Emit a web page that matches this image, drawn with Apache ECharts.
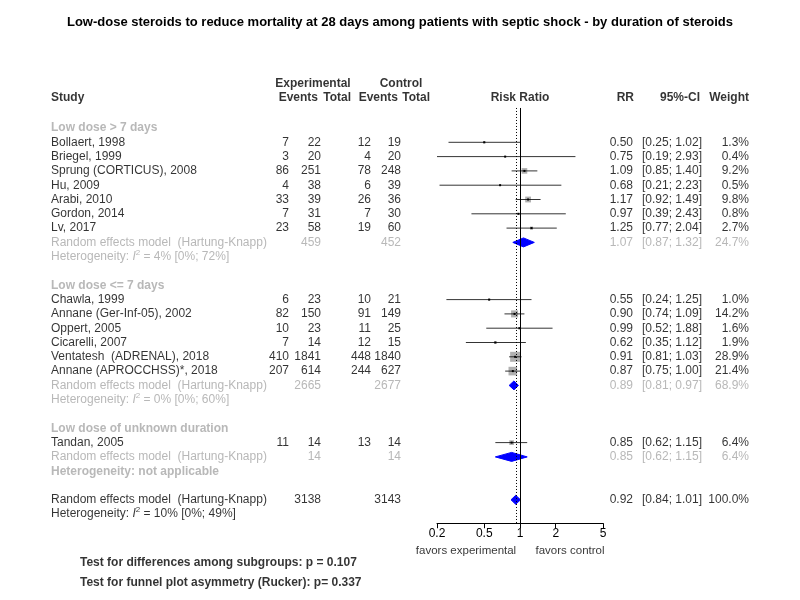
<!DOCTYPE html>
<html><head><meta charset="utf-8">
<script src="https://cdn.jsdelivr.net/npm/echarts@6/dist/echarts.min.js"></script>
<style>html,body{margin:0;background:#fff}#c{width:800px;height:600px}</style>
</head><body><div id="c"></div>
<script>
const studyNames=["Bollaert, 1998","Briegel, 1999","Sprung (CORTICUS), 2008","Hu, 2009","Arabi, 2010","Gordon, 2014","Lv, 2017",
"Chawla, 1999","Annane (Ger-Inf-05), 2002","Oppert, 2005","Cicarelli, 2007","Ventatesh  (ADRENAL), 2018","Annane (APROCCHSS)*, 2018",
"Tandan, 2005"];
const studyRows=[1,2,3,4,5,6,7,12,13,14,15,16,17,22];
const evE=[7,3,86,4,33,7,23,6,82,10,7,410,207,11];
const totE=[22,20,251,38,39,31,58,23,150,23,14,1841,614,14];
const evC=[12,4,78,6,26,7,19,10,91,11,12,448,244,13];
const totC=[19,20,248,39,36,30,60,21,149,25,15,1840,627,14];
const rr=[0.50,0.75,1.09,0.68,1.17,0.97,1.25,0.55,0.90,0.99,0.62,0.91,0.87,0.85];
const lo=[0.25,0.19,0.85,0.21,0.92,0.39,0.77,0.24,0.74,0.52,0.35,0.81,0.75,0.62];
const hi=[1.02,2.93,1.40,2.23,1.49,2.43,2.04,1.25,1.09,1.88,1.12,1.03,1.00,1.15];
const wt=[1.3,0.4,9.2,0.5,9.8,0.8,2.7,1.0,14.2,1.6,1.9,28.9,21.4,6.4];
const groupNames=["Low dose > 7 days","Low dose <= 7 days","Low dose of unknown duration"];
const groupRows=[0,11,21];
const reRows=[8,18,23,26];
const reTotE=[459,2665,14,3138];
const reTotC=[452,2677,14,3143];
const reRR=[1.07,0.89,0.85,0.92];
const reLo=[0.87,0.81,0.62,0.84];
const reHi=[1.32,0.97,1.15,1.01];
const reW=[24.7,68.9,6.4,100.0];
const hetRows=[9,19,24,27];
const hetI2=["4%","0%",null,"10%"];
const hetCI=["[0%; 72%]","[0%; 60%]",null,"[0%; 49%]"];
const tickLabels=[0.2,0.5,1,2,5];

const F="Liberation Sans, Arial, sans-serif";
const GRAY="#a6a6a6";
const txt=[];
function T(x,row,s,o){o=o||{};txt.push({value:[x,row],label:{show:true,formatter:s,position:'inside',align:o.align||'left',verticalAlign:'middle',fontSize:o.size||12,fontWeight:o.bold?'bold':'normal',color:o.color||'#000',fontFamily:F,rich:o.rich}});}
const f2=v=>v.toFixed(2);
const ci=(a,b)=>"["+f2(a)+"; "+f2(b)+"]";
// headers
T(313,-3.1,"Experimental",{align:'center',bold:true});
T(401,-3.1,"Control",{align:'center',bold:true});
T(51,-2.1,"Study",{bold:true});
T(318,-2.1,"Events",{align:'right',bold:true});T(351,-2.1,"Total",{align:'right',bold:true});
T(398,-2.1,"Events",{align:'right',bold:true});T(430,-2.1,"Total",{align:'right',bold:true});
T(520,-2.1,"Risk Ratio",{align:'center',bold:true});
T(634,-2.1,"RR",{align:'right',bold:true});T(700,-2.1,"95%-CI",{align:'right',bold:true});T(749,-2.1,"Weight",{align:'right',bold:true});
groupNames.forEach((g,i)=>T(51,groupRows[i],g,{bold:true,color:GRAY}));
studyNames.forEach((n,i)=>{const r=studyRows[i];T(51,r,n);T(289,r,String(evE[i]),{align:'right'});T(321,r,String(totE[i]),{align:'right'});
T(371,r,String(evC[i]),{align:'right'});T(401,r,String(totC[i]),{align:'right'});
T(633,r,f2(rr[i]),{align:'right'});T(702,r,ci(lo[i],hi[i]),{align:'right'});T(749,r,wt[i].toFixed(1)+"%",{align:'right'});});
reRows.forEach((r,i)=>{const c=i<3?GRAY:'#000';T(51,r,"Random effects model  (Hartung-Knapp)",{color:c});
T(321,r,String(reTotE[i]),{align:'right',color:c});T(401,r,String(reTotC[i]),{align:'right',color:c});
T(633,r,f2(reRR[i]),{align:'right',color:c});T(702,r,ci(reLo[i],reHi[i]),{align:'right',color:c});T(749,r,reW[i].toFixed(1)+"%",{align:'right',color:c});});
hetRows.forEach((r,i)=>{const c=i<3?GRAY:'#000';
if(hetI2[i]===null){T(51,r,"Heterogeneity: not applicable",{bold:true,color:GRAY});return;}
T(51,r,"Heterogeneity: {i|I}{s|2} = "+hetI2[i]+" "+hetCI[i],{color:c,rich:{i:{fontStyle:'italic',fontSize:12,color:c,fontFamily:F},s:{fontSize:8,verticalAlign:'top',padding:[0,0,8,0],color:c,fontFamily:F}}});});
T(466,29.55,"favors experimental",{align:'center',size:11.5});
T(570,29.55,"favors control",{align:'center',size:11.5});
T(80,30.4,"Test for differences among subgroups: p = 0.107",{bold:true});
T(80,31.8,"Test for funnel plot asymmetry (Rucker): p= 0.337",{bold:true});

const plotData=[];
studyNames.forEach((n,i)=>plotData.push([studyRows[i],Math.log(rr[i]),Math.log(lo[i]),Math.log(hi[i]),wt[i],0]));
reRows.forEach((r,i)=>plotData.push([r,Math.log(reRR[i]),Math.log(reLo[i]),Math.log(reHi[i]),reW[i],1]));
const XMIN=Math.log(0.2),XMAX=Math.log(5);
const RH=14.3;
function render(params,api){
 const row=api.value(0),m=api.value(1),l=Math.max(api.value(2),XMIN),h=Math.min(api.value(3),XMAX),w=api.value(4),t=api.value(5);
 const pm=api.coord([m,row]),pl=api.coord([l,row]),ph=api.coord([h,row]);
 if(t===1){return {type:'polygon',shape:{points:[[pl[0],pm[1]],[pm[0],pm[1]-4.5],[ph[0],pm[1]],[pm[0],pm[1]+4.5]]},style:{fill:'#0000ff',stroke:'#0000ff'}};}
 const s=10*Math.sqrt(w/28.9);
 return {type:'group',children:[
  {type:'rect',shape:{x:pm[0]-s/2,y:pm[1]-s/2,width:s,height:s},style:{fill:'#b0b0b0'}},
  {type:'line',shape:{x1:pl[0],y1:pm[1],x2:ph[0],y2:pm[1]},style:{stroke:'#000',lineWidth:0.8}},
  {type:'rect',shape:{x:pm[0]-1,y:pm[1]-1,width:2,height:2},style:{fill:'#000'}}]};
}
const chart=echarts.init(document.getElementById('c'));
chart.setOption({
 animation:false,
 title:{text:"Low-dose steroids to reduce mortality at 28 days among patients with septic shock - by duration of steroids",left:'center',top:11,textStyle:{fontSize:13,fontWeight:'bold',fontFamily:F,color:'#000'}},
 grid:[{left:0,width:800,top:128-3.5*RH,height:36*RH},{left:437,width:166,top:128-1.4*RH,height:28.9*RH+2}],
 xAxis:[{gridIndex:0,type:'value',min:0,max:800,show:false},
  {gridIndex:1,type:'value',min:XMIN,max:XMAX,position:'bottom',splitLine:{show:false},
   axisLine:{onZero:false,lineStyle:{color:'#000'}},axisTick:{customValues:tickLabels.map(Math.log),length:5,lineStyle:{color:'#000'}},
   axisLabel:{customValues:tickLabels.map(Math.log),formatter:v=>{let b=tickLabels[0];tickLabels.forEach(t=>{if(Math.abs(Math.log(t)-v)<Math.abs(Math.log(b)-v))b=t;});return String(b);},color:'#000',fontSize:12,fontFamily:F,margin:4}}],
 yAxis:[{gridIndex:0,type:'value',min:-3.5,max:32.5,inverse:true,show:false},
  {gridIndex:1,type:'value',min:-1.4,max:27.5+2/RH,inverse:true,show:false}],
 series:[
  {type:'scatter',xAxisIndex:0,yAxisIndex:0,symbolSize:0,data:txt,silent:true},
  {type:'custom',xAxisIndex:1,yAxisIndex:1,renderItem:render,data:plotData,clip:false,
   markLine:{silent:true,symbol:'none',label:{show:false},data:[
    {xAxis:0,lineStyle:{color:'#000',type:'solid',width:1}},
    {xAxis:Math.log(reRR[3]),lineStyle:{color:'#000',type:[1,2],width:1}}]}}
 ]
});
</script></body></html>
